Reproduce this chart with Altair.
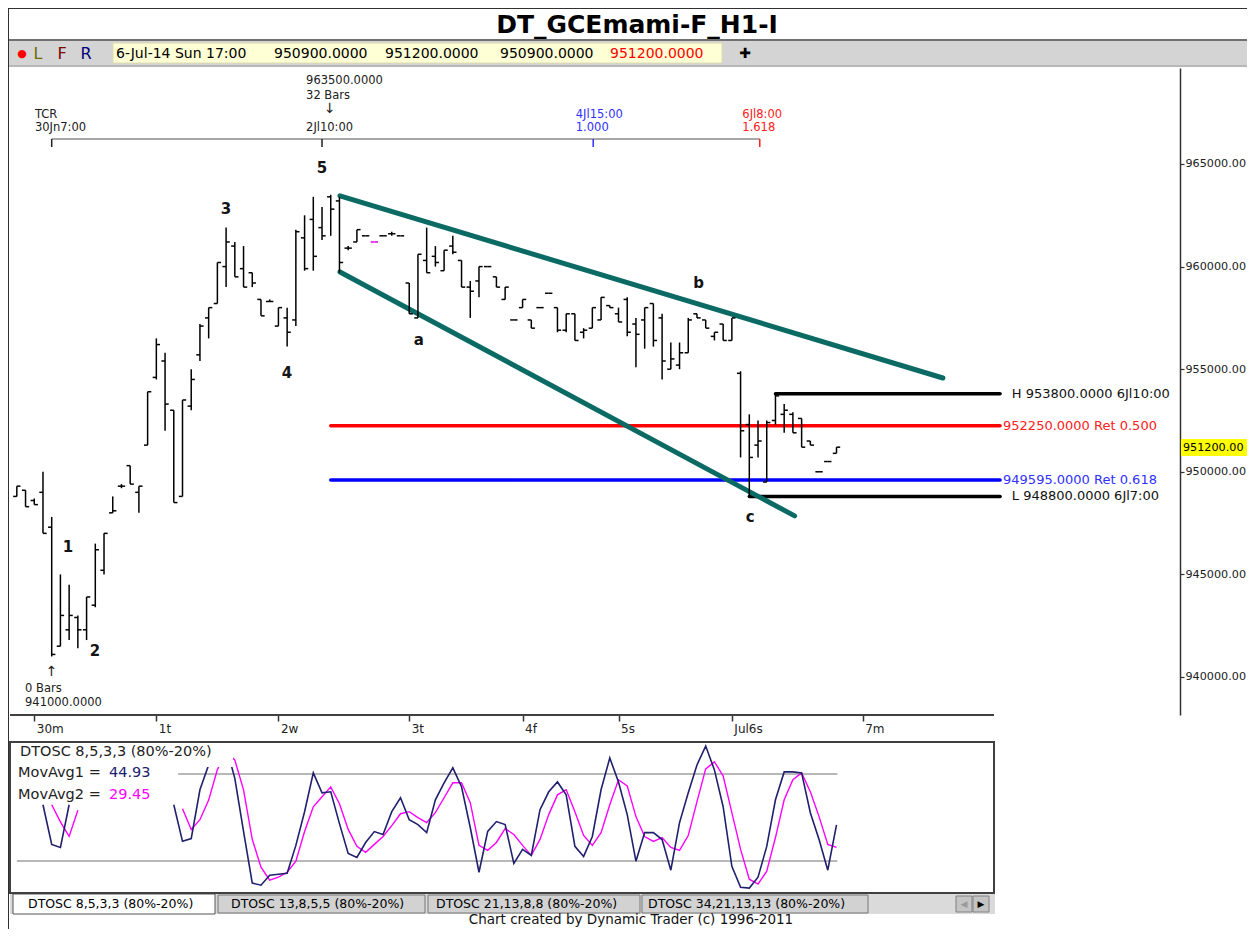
import altair as alt
import pandas as pd

FONT = "DejaVu Sans"
TEAL = "#0b6b64"
NAVY = "#20206e"
MAGENTA = "#ff00ff"

# ---------------- price bars (hourly, index 0 = 30Jn 7:00 low) ----------------
bar_index = list(range(-4, 91))
bar_open = [948800, 949100, 948600, 949000, 947300, 941500, 942300, 942900, 942300, 943500,
            945200, 948000, 949300, 950300, 949000, 951300, 954600, 955400, 953000, 948800,
            953200, 955700, 957500, 958200, 960000, 961000, 959900, 959700, 958400, 958300,
            957100, 957500, 957400, 961400, 962300, 961900, 963400, 963200, 960900, 961200,
            961500, 961200, 961500, 961600, 961500, 959200, 957500, 960300, 960500, 959800,
            961000, 960300, 959000, 959300, 960000, 959500, 958400, 957400, 958000, 957400,
            958000, 958700, 958000, 956900, 957700, 956800, 957000, 957400, 958100, 957700,
            958400, 957200, 957400, 958200, 957500, 955000, 955200, 955800, 957700, 957400,
            956600, 957200, 956400, 954800, 952300, 951300, 949500, 952500, 952800, 952800,
            952600, 951500, 950000, 950500, 950900]
bar_high = [949300, 949100, 948700, 950000, 947800, 945000, 944500, 943000, 943900, 946500,
            947000, 948800, 949400, 950300, 949300, 953900, 956500, 955800, 953000, 953500,
            955000, 957200, 958000, 960200, 961900, 961200, 961000, 959700, 958400, 958400,
            958000, 958000, 961800, 962500, 963400, 962900, 963500, 963400, 961000, 961800,
            961500, 961200, 961500, 961700, 961500, 959200, 960600, 961900, 961000, 960800,
            961500, 960300, 959300, 960000, 960000, 959500, 959000, 957400, 958400, 957400,
            958000, 958700, 958000, 957700, 957700, 957000, 958000, 958500, 958100, 958000,
            958500, 957500, 958000, 958200, 957700, 956300, 956300, 957500, 957700, 957400,
            956800, 957200, 957500, 954900, 952800, 952500, 952500, 953800, 953300, 952900,
            952600, 951500, 950000, 950500, 951200]
bar_low = [948800, 948300, 948400, 947000, 941000, 941500, 941800, 941400, 941800, 943400,
           945000, 948000, 949200, 949400, 948000, 951300, 954500, 952000, 948500, 948800,
           953000, 955400, 956500, 958200, 959000, 959500, 959000, 959000, 957600, 958300,
           957100, 956100, 957100, 959800, 959800, 961300, 961500, 959700, 960800, 961200,
           961500, 961200, 961500, 961500, 961500, 957700, 957500, 959700, 960000, 959800,
           960600, 959000, 957500, 958500, 960000, 959000, 958400, 957400, 958000, 957000,
           958000, 958700, 956800, 956800, 956400, 956500, 957000, 957400, 958000, 957300,
           956600, 955100, 956000, 956100, 954500, 955000, 955000, 955800, 957500, 957000,
           956400, 956400, 956400, 950700, 948800, 950700, 949500, 952300, 951900, 951900,
           951200, 951300, 950000, 950500, 950900]
bar_close = [949300, 948300, 948400, 947000, 941100, 943000, 943000, 942300, 943900, 946200,
             947000, 948100, 949300, 949400, 949300, 953900, 956200, 953300, 948500, 953500,
             954500, 957100, 958000, 960200, 961200, 959500, 959000, 959200, 957600, 958300,
             958000, 956800, 961700, 959900, 960500, 961500, 962800, 960200, 960900, 961800,
             961500, 961200, 961500, 961600, 961500, 957700, 960600, 959700, 960200, 960800,
             960700, 959000, 958800, 960000, 960000, 959000, 959000, 957400, 958400, 957000,
             958000, 958700, 956900, 957700, 956400, 956900, 958000, 958500, 958000, 957300,
             956800, 956700, 958000, 956400, 955400, 955500, 955800, 957400, 957500, 957000,
             956800, 956400, 957500, 952000, 950700, 951500, 952400, 953700, 953000, 951900,
             951200, 951300, 950000, 950500, 951200]
magenta_bars = [37]

# ---------------- DTOSC 8,5,3,3 ----------------
osc_fast_index = [-1, 0, 1, 2] + list(range(14, 91))
osc_fast = [58.8, 31.4, 29.4, 58.8,
            58.8, 33.6, 35.5, 69.1, 86.2, 95, 99, 77, 40.4, 4.8,
            3.4, 10.3, 10.9, 11.6, 30.8, 54, 80.7, 67, 67.7, 45.8,
            25.3, 22.5, 32.8, 40.3, 38.3, 54, 63.6, 48.5, 45.1, 39.6,
            62.2, 73.9, 84.2, 71.2, 43.1, 12.3, 40.4, 47.2, 45.1, 18.4,
            28, 23.9, 55.4, 67.7, 74.5, 65.6, 30.1, 23.2, 36.9, 69.1,
            91, 74.5, 52, 19.9, 39.6, 39.6, 34.8, 13.7, 46.5, 67,
            86.2, 99.2, 82.8, 57.4, 16.4, 2, 1.4, 8.9, 30.1, 62.2,
            81.4, 81.4, 80.7, 53.3, 34.8, 13.7, 44.93]
osc_slow_index = [0, 1, 2, 3] + list(range(15, 91))
osc_slow = [58.8, 47, 37, 55,
            56, 41.7, 48.5, 62, 83, 95, 89.6, 69, 35,
            15.8, 6.9, 8.9, 12.3, 19.9, 40.4, 57.4, 64.3, 71.1, 59.5,
            41.8, 30.1, 26, 31.5, 36.9, 44.4, 52.6, 54, 49.9, 46.5,
            53.3, 63.6, 73.9, 73.9, 60.2, 30.8, 27.4, 32.8, 42.4, 38.3,
            30.8, 23.9, 34.9, 52, 65.6, 69.1, 54, 37.6, 30.8, 39.6,
            58.8, 76, 71.8, 50.6, 36.9, 33.5, 36.2, 29.4, 27.4, 37.6,
            60.9, 83.5, 88.3, 78.7, 53.3, 28, 7.5, 4.1, 13, 36.2,
            62.2, 76, 80.7, 67.7, 50.6, 31.5, 29.45]
osc_levels = [80, 20]

# ---------------- axes ----------------
day_tick_index = [-2, 12, 26, 41, 54, 65, 78, 93]
day_tick_labels = ["30m", "1t", "2w", "3t", "4f", "5s", "Jul6s", "7m"]
price_ticks = [940000, 945000, 950000, 955000, 960000, 965000]

# ---------------- annotations ----------------
trend_names = ["upper", "upper", "lower", "lower"]
trend_index = [33.06, 102.2, 33.06, 85.2]
trend_price = [963450, 954570, 959740, 947850]

level_prices = [953800, 952250, 949595, 948800]
level_start = [83, 32, 32, 80]
level_texts = ["H 953800.0000 6Jl10:00", "952250.0000 Ret 0.500",
               "949595.0000 Ret 0.618", "L 948800.0000 6Jl7:00"]
level_colors = ["#000000", "#ff0000", "#0000ff", "#000000"]
level_text_colors = ["#111111", "#ff2020", "#3030ff", "#111111"]

wave_labels = ["1", "2", "3", "4", "5", "a", "b", "c"]
wave_index = [1.87, 4.97, 19.99, 26.98, 31.0, 42.1, 74.2, 80.1]
wave_price = [946336, 941268, 962807, 954815, 964805, 956424, 959200, 947798]

ruler_marks = [0, 31, 62.1, 81.2]

W, H = 1170, 647
X_DOM = [-4.782, 129.392]
Y_DOM = [938148, 969678]


def xs():
    return alt.Scale(domain=X_DOM, nice=False, zero=False)


def ys():
    return alt.Scale(domain=Y_DOM, nice=False, zero=False)


def osc_ys():
    return alt.Scale(domain=[-2, 102], range=[825, 674], nice=False, zero=False)


expr = "''"
for v, lab in reversed(list(zip(day_tick_index, day_tick_labels))):
    expr = f"(datum.value == {v}) ? '{lab}' : {expr}"

x_axis = alt.Axis(values=day_tick_index, labelExpr=expr, domain=False, grid=False,
                  tickSize=6, tickColor="#333333", tickWidth=1.5, labelAlign="left",
                  labelBaseline="top", labelPadding=2, labelOffset=2, labelFont=FONT,
                  labelFontSize=12, labelColor="#222222", labelFlush=False,
                  labelOverlap=False, title=None, orient="bottom")
y_axis = alt.Axis(orient="right", values=price_ticks, format=".2f", grid=False,
                  domainColor="#333333", domainWidth=1.5, tickColor="#333333",
                  tickSize=4, tickWidth=1.2, labelPadding=1, labelFont=FONT,
                  labelFontSize=11.2, labelColor="#222222", labelFlush=False,
                  labelOverlap=False, title=None)

bars_df = pd.DataFrame({"k": bar_index, "open": bar_open, "high": bar_high,
                        "low": bar_low, "close": bar_close})
bars_df["col"] = ["#e000e0" if k in magenta_bars else "#000000" for k in bar_index]

hl = alt.Chart(bars_df).mark_rule(strokeWidth=1.5).encode(
    x=alt.X("k:Q", scale=xs(), axis=x_axis),
    y=alt.Y("low:Q", scale=ys(), axis=y_axis),
    y2="high:Q",
    color=alt.Color("col:N", scale=None))
op = alt.Chart(bars_df).transform_calculate(kl="datum.k - 0.42").mark_rule(strokeWidth=1.5).encode(
    x=alt.X("kl:Q", scale=xs(), axis=None), x2="k:Q",
    y=alt.Y("open:Q", scale=ys(), axis=None), color=alt.Color("col:N", scale=None))
cl = alt.Chart(bars_df).transform_calculate(kr="datum.k + 0.42").mark_rule(strokeWidth=1.5).encode(
    x=alt.X("k:Q", scale=xs(), axis=None), x2="kr:Q",
    y=alt.Y("close:Q", scale=ys(), axis=None), color=alt.Color("col:N", scale=None))

trend_df = pd.DataFrame({"line": trend_names, "k": trend_index, "price": trend_price})
trend = alt.Chart(trend_df).mark_line(color=TEAL, strokeWidth=5, strokeCap="round").encode(
    x=alt.X("k:Q", scale=xs(), axis=None), y=alt.Y("price:Q", scale=ys(), axis=None),
    detail="line:N")

lev_df = pd.DataFrame({"price": level_prices, "k0": level_start, "text": level_texts,
                       "col": level_colors, "tcol": level_text_colors})
lev_df["k1"] = 108.76
lev_df["tk"] = [110.1, 109.1, 109.1, 110.1]
levels = alt.Chart(lev_df).mark_rule(strokeWidth=3.5, strokeCap="round").encode(
    x=alt.X("k0:Q", scale=xs(), axis=None), x2="k1:Q",
    y=alt.Y("price:Q", scale=ys(), axis=None), color=alt.Color("col:N", scale=None))
lev_text = alt.Chart(lev_df).mark_text(align="left", baseline="middle", font=FONT,
                                       fontSize=13).encode(
    x=alt.X("tk:Q", scale=xs(), axis=None), y=alt.Y("price:Q", scale=ys(), axis=None),
    text="text:N", color=alt.Color("tcol:N", scale=None))

wave_df = pd.DataFrame({"k": wave_index, "price": wave_price, "t": wave_labels})
waves = alt.Chart(wave_df).mark_text(font=FONT, fontSize=15, fontWeight="bold",
                                     color="#141414", baseline="middle").encode(
    x=alt.X("k:Q", scale=xs(), axis=None), y=alt.Y("price:Q", scale=ys(), axis=None),
    text="t:N")

ruler_df = pd.DataFrame({"k0": [ruler_marks[0]], "k1": [ruler_marks[-1]]})
ruler = alt.Chart(ruler_df).mark_rule(color="#8a8a8a", strokeWidth=1.5).encode(
    x=alt.X("k0:Q", scale=xs(), axis=None), x2="k1:Q", y=alt.value(71))
rt_df = pd.DataFrame({"k": ruler_marks, "col": ["#222222", "#222222", "#3030ff", "#ff2020"]})
ruler_ticks = alt.Chart(rt_df).mark_rule(strokeWidth=1.5).encode(
    x=alt.X("k:Q", scale=xs(), axis=None), y=alt.value(71), y2=alt.value(79),
    color=alt.Color("col:N", scale=None))

anno_df = pd.DataFrame([
    (-1.92, 47, "TCR", "#202020"), (-1.92, 60, "30Jn7:00", "#202020"),
    (29.17, 13, "963500.0000", "#202020"), (29.17, 28, "32 Bars", "#202020"),
    (29.17, 60, "2Jl10:00", "#202020"),
    (60.1, 47, "4Jl15:00", "#3030ff"), (60.1, 60, "1.000", "#3030ff"),
    (79.2, 47, "6Jl8:00", "#ff2020"), (79.2, 60, "1.618", "#ff2020"),
    (-3.06, 621, "0 Bars", "#202020"), (-3.06, 635, "941000.0000", "#202020"),
], columns=["k", "py", "t", "col"])
anno = alt.Chart(anno_df).mark_text(align="left", baseline="middle", font=FONT,
                                    fontSize=11.5).encode(
    x=alt.X("k:Q", scale=xs(), axis=None), y=alt.Y("py:Q", scale=None), text="t:N",
    color=alt.Color("col:N", scale=None))
arrow_df = pd.DataFrame({"k": [31.9, 0.0], "py": [41, 604], "t": ["↓", "↑"]})
arrows = alt.Chart(arrow_df).mark_text(baseline="middle", font=FONT, fontSize=14,
                                       color="#202020").encode(
    x=alt.X("k:Q", scale=xs(), axis=None), y=alt.Y("py:Q", scale=None), text="t:N")

# ---------------- oscillator ----------------
fast_df = pd.DataFrame({"k": osc_fast_index, "v": osc_fast})
fast_df["seg"] = (fast_df["k"] > 5).astype(int)
slow_df = pd.DataFrame({"k": osc_slow_index, "v": osc_slow})
slow_df["seg"] = (slow_df["k"] > 5).astype(int)
ol_df = pd.DataFrame({"lvl": osc_levels, "k0": [14.5, -4.0], "k1": [90.1, 90.1]})

osc_lines = alt.Chart(ol_df).mark_rule(color="#a0a0a0", strokeWidth=1.5).encode(
    x=alt.X("k0:Q", scale=xs(), axis=None), x2="k1:Q",
    y=alt.Y("lvl:Q", scale=osc_ys(), axis=None))
slow = alt.Chart(slow_df).mark_line(color=MAGENTA, strokeWidth=1.4).encode(
    x=alt.X("k:Q", scale=xs(), axis=None), y=alt.Y("v:Q", scale=osc_ys(), axis=None),
    detail="seg:N")
fast = alt.Chart(fast_df).mark_line(color=NAVY, strokeWidth=1.6).encode(
    x=alt.X("k:Q", scale=xs(), axis=None), y=alt.Y("v:Q", scale=osc_ys(), axis=None),
    detail="seg:N")

# ---------------- window decoration (pixel layout) ----------------
rects_df = pd.DataFrame([
    (-1, 1237, -27, -3, "#d4d4d4", "#d4d4d4", 0),
    (103, 712, -25, -5, "#ffffd6", "#dcdcb0", 1),
    (1171, 1237, 371, 388, "#ffff00", "#ffff00", 0),
    (7, 223, 676, 699, "#ffffff", "#ffffff", 0),
    (0, 985, 826, 846, "#dadada", "#dadada", 0),
    (3, 205, 826, 846, "#ffffff", "#555555", 1),
    (208, 415, 827, 845, "#d2d2d2", "#777777", 1),
    (418, 630, 827, 845, "#d2d2d2", "#777777", 1),
    (632, 858, 827, 845, "#d2d2d2", "#777777", 1),
    (946, 962, 828, 844, "#c4c4c4", "#808080", 1),
    (963, 979, 828, 844, "#c4c4c4", "#808080", 1),
    (0, 984, 674, 825, "transparent", "#404040", 2),
], columns=["x0", "x1", "y0", "y1", "fill", "stroke", "sw"])
rects = alt.Chart(rects_df).mark_rect().encode(
    x=alt.X("x0:Q", scale=None), x2="x1:Q", y=alt.Y("y0:Q", scale=None), y2="y1:Q",
    fill=alt.Fill("fill:N", scale=None), stroke=alt.Stroke("stroke:N", scale=None),
    strokeWidth=alt.StrokeWidth("sw:Q", scale=None))

rules_df = pd.DataFrame([
    (-2, 1237, -60, -60, "#303030", 2),
    (-2, 1237, -28, -28, "#404040", 1.5),
    (-2, 1237, -2, -2, "#a0a0a0", 1.5),
    (-2, -2, -60, 861, "#303030", 2),
    (0, 984, 647, 647, "#404040", 2),
], columns=["x0", "x1", "y0", "y1", "col", "sw"])
rules = alt.Chart(rules_df).mark_rule().encode(
    x=alt.X("x0:Q", scale=None), x2="x1:Q", y=alt.Y("y0:Q", scale=None), y2="y1:Q",
    color=alt.Color("col:N", scale=None), strokeWidth=alt.StrokeWidth("sw:Q", scale=None))

texts_df = pd.DataFrame([
    (627, -43, "DT_GCEmami-F_H1-I", "#000000", 25, "bold", "center"),
    (12, -14, "●", "#ff0000", 11, "normal", "center"),
    (28, -14, "L", "#6b6b00", 16, "normal", "center"),
    (52, -14, "F", "#7a0000", 16, "normal", "center"),
    (76, -14, "R", "#00007a", 16, "normal", "center"),
    (106, -14, "6-Jul-14 Sun 17:00", "#000000", 14, "normal", "left"),
    (264, -14, "950900.0000", "#000000", 14, "normal", "left"),
    (375, -14, "951200.0000", "#000000", 14, "normal", "left"),
    (490, -14, "950900.0000", "#000000", 14, "normal", "left"),
    (600, -14, "951200.0000", "#ff0000", 14, "normal", "left"),
    (735, -14, "✚", "#000000", 14, "bold", "center"),
    (1173, 380, "951200.00", "#000000", 11.2, "normal", "left"),
    (10, 684, "DTOSC 8,5,3,3 (80%-20%)", "#222222", 14.5, "normal", "left"),
    (8, 705, "MovAvg1 =", "#222222", 14.5, "normal", "left"),
    (99, 705, "44.93", NAVY, 14.5, "normal", "left"),
    (8, 727, "MovAvg2 =", "#222222", 14.5, "normal", "left"),
    (99, 727, "29.45", MAGENTA, 14.5, "normal", "left"),
    (18, 836, "DTOSC 8,5,3,3 (80%-20%)", "#000000", 12.5, "normal", "left"),
    (221, 836, "DTOSC 13,8,5,5 (80%-20%)", "#000000", 12.5, "normal", "left"),
    (426, 836, "DTOSC 21,13,8,8 (80%-20%)", "#000000", 12.5, "normal", "left"),
    (638, 836, "DTOSC 34,21,13,13 (80%-20%)", "#000000", 12.5, "normal", "left"),
    (954, 836, "◀", "#9a9a9a", 9, "normal", "center"),
    (971, 836, "▶", "#000000", 9, "normal", "center"),
    (621, 852, "Chart created by Dynamic Trader  (c) 1996-2011", "#111111", 13.5, "normal", "center"),
], columns=["px", "py", "t", "col", "size", "weight", "align"])

text_layers = []
for weight in ["normal", "bold"]:
    for align in ["left", "center"]:
        sub = texts_df[(texts_df["weight"] == weight) & (texts_df["align"] == align)]
        if len(sub) == 0:
            continue
        text_layers.append(
            alt.Chart(sub).mark_text(font=FONT, baseline="middle", align=align,
                                     fontWeight=weight).encode(
                x=alt.X("px:Q", scale=None), y=alt.Y("py:Q", scale=None), text="t:N",
                color=alt.Color("col:N", scale=None), size=alt.Size("size:Q", scale=None)))

chart = alt.layer(
    ruler, ruler_ticks, levels, trend, hl, op, cl, lev_text, waves, anno, arrows,
    osc_lines, slow, fast, rects, rules, *text_layers
).resolve_scale(
    x="independent", y="independent"
).properties(
    width=W, height=H,
    autosize=alt.AutoSizeParams(type="none"),
    padding={"left": 2, "top": 60, "right": 67, "bottom": 214},
).configure_view(stroke=None)

chart.save("out.html", embed_options={"renderer": "svg", "actions": False})
